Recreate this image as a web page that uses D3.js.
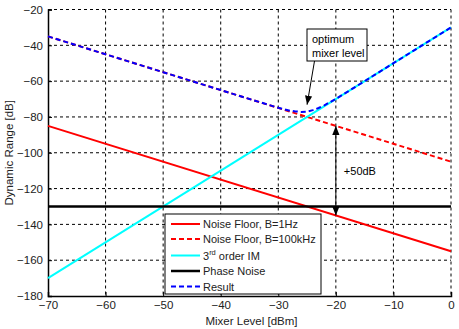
<!DOCTYPE html>
<html><head><meta charset="utf-8">
<script src="https://cdn.jsdelivr.net/npm/d3@7"></script>
<style>body{margin:0;background:#fff}text{font-family:Arial,"Liberation Sans",sans-serif}</style>
</head><body><svg id="c" width="459" height="329"></svg>
<script>
const xTicks = [-70,-60,-50,-40,-30,-20,-10,0];
const yTicks = [-180,-160,-140,-120,-100,-80,-60,-40,-20];
const lineX = [-70, 0];
const noiseFloor1Hz = [-85, -155];
const noiseFloor100kHz = [-35, -105];
const thirdOrderIM = [-170, -30];
const phaseNoise = [-130, -130];
const resultX = [-70,-65,-60,-55,-50,-45,-40,-35,-32,-30,-28,-27,-26,-25,-24,-23,-22,-20,-18,-15,-10,-5,0];
const resultY = [-35,-40,-45,-50,-55,-60,-65,-70,-72.9,-74.9,-76.5,-76.9,-77.2,-77.0,-76.2,-75.0,-73.5,-69.9,-66,-60,-50,-40,-30];
const legendLabels = ["Noise Floor, B=1Hz","Noise Floor, B=100kHz","3rd order IM","Phase Noise","Result"];

const svg = d3.select("#c");
const L=48,R=451,T=9.5,B=296;
const x = d3.scaleLinear().domain([-70,0]).range([L,R]);
const y = d3.scaleLinear().domain([-180,-20]).range([B,T]);

// grid
const g = svg.append("g");
xTicks.forEach(t=>{ if(t!==-70) g.append("line").attr("x1",x(t)).attr("x2",x(t)).attr("y1",T).attr("y2",B).attr("stroke","#000").attr("stroke-width",1).attr("stroke-dasharray","3,3");});
yTicks.forEach(t=>{ if(t!==-180) g.append("line").attr("x1",L).attr("x2",R).attr("y1",y(t)).attr("y2",y(t)).attr("stroke","#000").attr("stroke-width",1).attr("stroke-dasharray","3,3");});

// axes
const xa = svg.append("g").attr("transform",`translate(0,${B})`).call(d3.axisBottom(x).tickValues(xTicks).tickSize(-4).tickPadding(5));
const ya = svg.append("g").attr("transform",`translate(${L},0)`).call(d3.axisLeft(y).tickValues(yTicks).tickSize(-4).tickPadding(5));
[xa,ya].forEach(a=>{a.select(".domain").attr("stroke","#000").attr("stroke-width",1.5);a.selectAll("text").attr("font-size",11.5).attr("fill","#222").style("font-family","Arial, 'Liberation Sans', sans-serif");});

svg.append("text").attr("x",(L+R)/2+2).attr("y",325).attr("text-anchor","middle").attr("font-size",11.5).attr("fill","#222").text("Mixer Level [dBm]");
svg.append("text").attr("transform",`translate(13,${(T+B)/2}) rotate(-90)`).attr("text-anchor","middle").attr("font-size",11.5).attr("fill","#222").text("Dynamic Range [dB]");

const line = d3.line().x(d=>x(d[0])).y(d=>y(d[1]));
const pts = ys => lineX.map((v,i)=>[v,ys[i]]);
const plot = svg.append("g");
plot.append("path").attr("d",line(pts(noiseFloor1Hz))).attr("stroke","#f00").attr("stroke-width",2).attr("fill","none");
plot.append("path").attr("d",line(pts(noiseFloor100kHz))).attr("stroke","#f00").attr("stroke-width",2).attr("stroke-dasharray","5,3").attr("fill","none");
plot.append("path").attr("d",line(pts(thirdOrderIM))).attr("stroke","#0ff").attr("stroke-width",2).attr("fill","none");
plot.append("path").attr("d",line(pts(phaseNoise))).attr("stroke","#000").attr("stroke-width",2.5).attr("fill","none");
plot.append("path").attr("d",line(resultX.map((v,i)=>[v,resultY[i]]))).attr("stroke","#00f").attr("stroke-width",2).attr("stroke-dasharray","5,3").attr("fill","none");

// markers
const defs = svg.append("defs");
defs.append("marker").attr("id","ah").attr("viewBox","0 0 10 10").attr("refX",10).attr("refY",5).attr("markerWidth",9).attr("markerHeight",9).attr("orient","auto-start-reverse").attr("markerUnits","userSpaceOnUse")
  .append("path").attr("d","M0,1 L10,5 L0,9 Z").attr("fill","#000");

// +50dB arrow
const ax = x(-20);
svg.append("line").attr("x1",ax).attr("x2",ax).attr("y1",y(-85)).attr("y2",y(-135)).attr("stroke","#000").attr("stroke-width",1).attr("marker-start","url(#ah)").attr("marker-end","url(#ah)");
svg.append("text").attr("x",ax+8).attr("y",y(-110)+4).attr("font-size",11).attr("fill","#000").text("+50dB");

// optimum annotation
svg.append("rect").attr("x",307).attr("y",29).attr("width",60).attr("height",32).attr("fill","#fff").attr("stroke","#000").attr("stroke-width",1);
svg.append("text").attr("x",312).attr("y",43).attr("font-size",11).attr("fill","#000").text("optimum");
svg.append("text").attr("x",312).attr("y",57).attr("font-size",11).attr("fill","#000").text("mixer level");
svg.append("line").attr("x1",314.5).attr("y1",61).attr("x2",x(-25)).attr("y2",y(-76.5)-6).attr("stroke","#000").attr("stroke-width",1).attr("marker-end","url(#ah)");

// legend
const lg = svg.append("g");
lg.append("rect").attr("x",165).attr("y",214).attr("width",156).attr("height",80).attr("fill","#fff").attr("stroke","#000").attr("stroke-width",1);
const styles = [{c:"#f00",d:null,w:2},{c:"#f00",d:"5,3",w:2},{c:"#0ff",d:null,w:2},{c:"#000",d:null,w:2.5},{c:"#00f",d:"5,3",w:2}];
const rowsY = [224,239,255.5,271,286.5];
legendLabels.forEach((lab,i)=>{
  lg.append("line").attr("x1",171).attr("x2",200).attr("y1",rowsY[i]).attr("y2",rowsY[i]).attr("stroke",styles[i].c).attr("stroke-width",styles[i].w).attr("stroke-dasharray",styles[i].d);
  const t = lg.append("text").attr("x",203).attr("y",rowsY[i]+4).attr("font-size",11).attr("fill","#222");
  if(i===2){
    t.append("tspan").text("3");
    t.append("tspan").attr("font-size",7.5).attr("dy",-5).text("rd");
    t.append("tspan").attr("dy",5).text(" order IM");
  } else t.text(lab);
});
</script></body></html>
